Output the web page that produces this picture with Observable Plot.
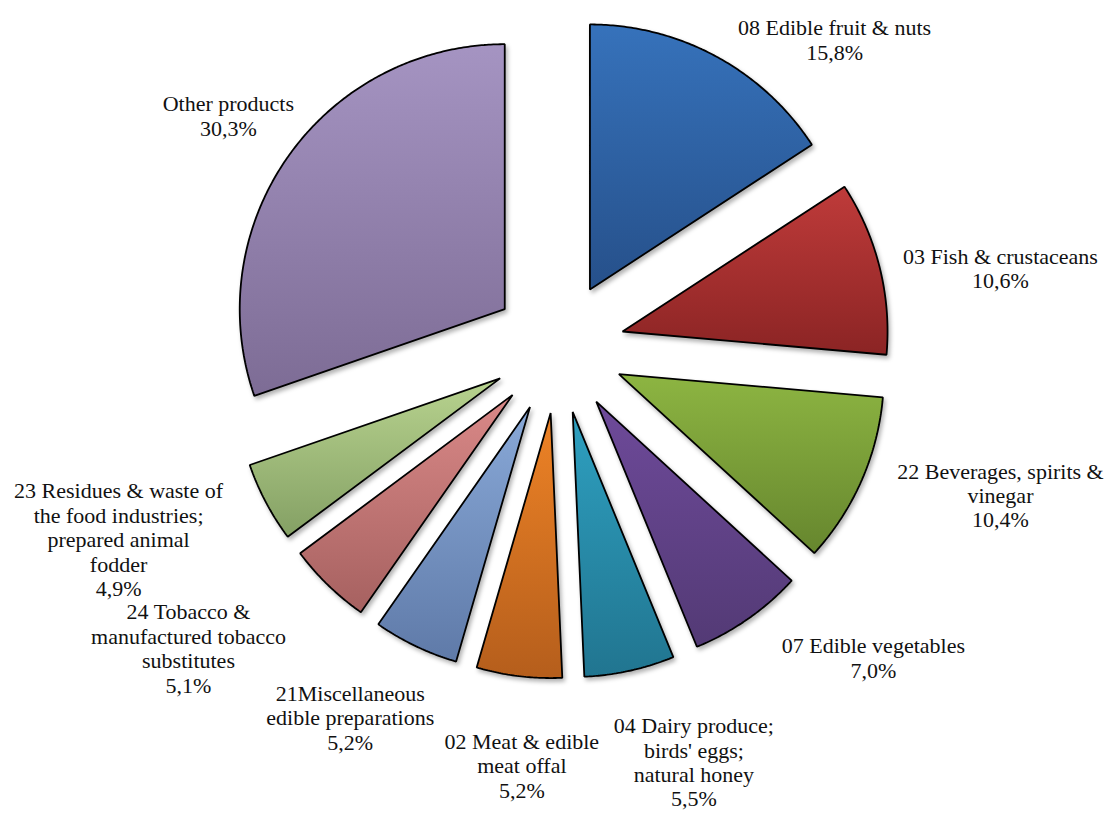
<!DOCTYPE html>
<html><head><meta charset="utf-8">
<script src="https://cdn.jsdelivr.net/npm/d3@7"></script>
<script src="https://cdn.jsdelivr.net/npm/@observablehq/plot@0.6"></script>
<style>body{margin:0;background:#fff}</style>
</head><body><div id="chart"></div>
<script>
// ---- data ----
const categories = [
  "08 Edible fruit & nuts",
  "03 Fish & crustaceans",
  "22 Beverages, spirits &\nvinegar",
  "07 Edible vegetables",
  "04 Dairy produce;\nbirds' eggs;\nnatural honey",
  "02 Meat & edible\nmeat offal",
  "21Miscellaneous\nedible preparations",
  "24 Tobacco &\nmanufactured tobacco\nsubstitutes",
  "23 Residues & waste of\nthe food industries;\nprepared animal\nfodder",
  "Other products"
];
const shares = [15.8, 10.6, 10.4, 7.0, 5.5, 5.2, 5.2, 5.1, 4.9, 30.3];
const shareLabels = ["15,8%", "10,6%", "10,4%", "7,0%", "5,5%", "5,2%", "5,2%", "5,1%", "4,9%", "30,3%"];
const topColors    = ["#3672bb", "#bf3b3a", "#8db542", "#6e4a9a", "#2ea0c0", "#ee8326", "#89a9d8", "#da8988", "#b8d38f", "#a594c2"];
const bottomColors = ["#26508a", "#8b2424", "#66862e", "#533a75", "#217590", "#b55e1c", "#5f7aa8", "#a66160", "#84a064", "#7d6c95"];

// ---- layout ----
const W = 1107, H = 814, CX = 558, CY = 347, R = 265, EXPLODE = 66;
const labelAngle  = [41.8, 79.6, 108.2, 134.3, 161.7, 184.9, 209.4, 231.0, 246.6, 305.4];
const labelRadius = [1.563, 1.693, 1.753, 1.659, 1.633, 1.570, 1.587, 1.785, 1.798, 1.518];
const LCX = 557, LCY = 349; // label reference centre

const pie = d3.pie().sort(null).value(d => d)(shares);
const e = EXPLODE / R;
const slices = pie.map((p, i) => {
  const mid = (p.startAngle + p.endAngle) / 2;
  const ox = e * Math.sin(mid), oy = e * Math.cos(mid);
  const pts = [{x: ox, y: oy}];
  const n = Math.max(4, Math.ceil((p.endAngle - p.startAngle) / (Math.PI / 360)));
  for (let k = 0; k <= n; k++) {
    const a = p.startAngle + (p.endAngle - p.startAngle) * k / n;
    pts.push({x: ox + Math.sin(a), y: oy + Math.cos(a)});
  }
  return pts;
});
const labels = categories.map((c, i) => {
  const a = labelAngle[i] * Math.PI / 180;
  const lr = labelRadius[i] * 266 / R;
  return {
    text: c + "\n" + shareLabels[i],
    x: lr * Math.sin(a) + (LCX - CX) / R,
    y: lr * Math.cos(a) - (LCY - CY) / R
  };
});

const svg = Plot.plot({
  width: W, height: H, margin: 0,
  style: {background: "#fff", fontFamily: "'Liberation Serif', serif"},
  x: {domain: [-CX / R, (W - CX) / R], axis: null},
  y: {domain: [-(H - CY) / R, CY / R], axis: null},
  marks: [
    ...slices.map((pts, i) => Plot.line(pts, {
      x: "x", y: "y", curve: "linear-closed",
      fill: `url(#grad${i})`, stroke: "#000", strokeWidth: 1.8, strokeLinejoin: "miter"
    })),
    Plot.text(labels, {
      x: "x", y: "y", text: "text", fontSize: 22, lineHeight: 1.11,
      fill: "#111", textAnchor: "middle", lineAnchor: "middle",
      fontFamily: "'Liberation Serif', serif"
    })
  ]
});

const ns = "http://www.w3.org/2000/svg";
const defs = document.createElementNS(ns, "defs");
topColors.forEach((c, i) => {
  const g = document.createElementNS(ns, "linearGradient");
  g.setAttribute("id", `grad${i}`);
  g.setAttribute("x1", "0"); g.setAttribute("y1", "0");
  g.setAttribute("x2", "0"); g.setAttribute("y2", "1");
  [[0, c], [1, bottomColors[i]]].forEach(([o, col]) => {
    const s = document.createElementNS(ns, "stop");
    s.setAttribute("offset", o); s.setAttribute("stop-color", col);
    g.appendChild(s);
  });
  defs.appendChild(g);
});
svg.insertBefore(defs, svg.firstChild);
svg.querySelectorAll('g[aria-label="line"]').forEach(g => {
  g.style.filter = "drop-shadow(2px 3px 2px rgba(0,0,0,0.3))";
});
document.getElementById("chart").appendChild(svg);
</script>
</body></html>
